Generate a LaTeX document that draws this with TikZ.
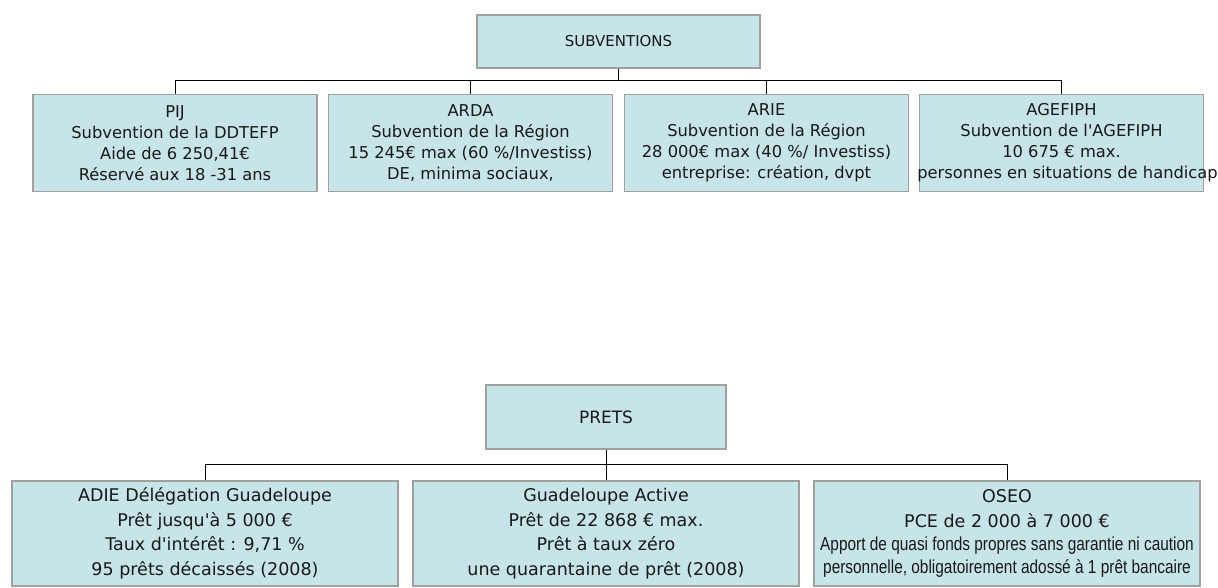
\documentclass[tikz,border=0pt]{standalone}
\usepackage{fontspec}
\setmainfont{DejaVu Sans}[Ligatures=TeXOff]
\newfontfamily\narrowfont{Liberation Sans}[FakeStretch=0.82,Ligatures=TeXOff]
\definecolor{boxfill}{RGB}{199,228,232}
\definecolor{boxline}{RGB}{160,160,160}
\begin{document}
\begin{tikzpicture}[x=1pt,y=-1pt,
  box/.style={draw=boxline,line width=1.3pt,fill=boxfill,inner sep=0pt,align=center,text=black!90},
  topbox/.style={box,minimum width=284pt,minimum height=97pt,font=\fontsize{16.3}{21}\selectfont},
  botbox/.style={box,minimum width=386pt,minimum height=105pt,font=\fontsize{17.5}{24.5}\selectfont},
  link/.style={draw=black,line width=1pt}]
\useasboundingbox (0,0) rectangle (1218,588);

\node[box,minimum width=283pt,minimum height=53pt,font=\fontsize{15}{18}\selectfont] (subv) at (618.5,41.5) {SUBVENTIONS};
\node[topbox] (pij) at (175,143) {PIJ\\Subvention de la DDTEFP\\Aide de 6 250,41€\\Réservé aux 18 -31 ans};
\node[topbox] (arda) at (470.5,143) {ARDA\\Subvention de la Région\\15 245€ max (60 \%/Investiss)\\DE, minima sociaux,};
\node[topbox] (arie) at (766.5,143) {ARIE\\Subvention de la Région\\28 000€ max (40 \%/ Investiss)\\entreprise: création, dvpt};
\node[topbox] (agef) at (1061.5,143) {AGEFIPH\\Subvention de l'AGEFIPH\\10 675 € max.\\\makebox[0pt][c]{\hspace{12pt}personnes en situations de handicap}};

\coordinate (j1) at (618.5,81);
\draw[link] (subv.south) -- (j1);
\foreach \n in {pij,arda,arie,agef} \draw[link] (\n.north) |- (j1);

\node[box,minimum width=240pt,minimum height=64pt,font=\fontsize{17}{20}\selectfont] (prets) at (606,417) {PRETS};
\node[botbox] (adie) at (205,533.5) {ADIE Délégation Guadeloupe\\Prêt jusqu'à 5 000 €\\Taux d'intérêt : 9,71 \%\\95 prêts décaissés (2008)};
\node[botbox] (gact) at (606,533.5) {Guadeloupe Active\\Prêt de 22 868 € max.\\Prêt à taux zéro\\une quarantaine de prêt (2008)};
\node[botbox] (oseo) at (1007,533.5) {OSEO\\PCE de 2 000 à 7 000 €\\[-1pt]{\narrowfont\fontsize{18.8}{22}\selectfont Apport de quasi fonds propres sans garantie ni caution}\\[-2pt]{\narrowfont\fontsize{18.8}{22}\selectfont personnelle, obligatoirement adossé à 1 prêt bancaire}};

\coordinate (j2) at (606,464);
\draw[link] (prets.south) -- (j2);
\foreach \n in {adie,gact,oseo} \draw[link] (\n.north) |- (j2);
\end{tikzpicture}
\end{document}
